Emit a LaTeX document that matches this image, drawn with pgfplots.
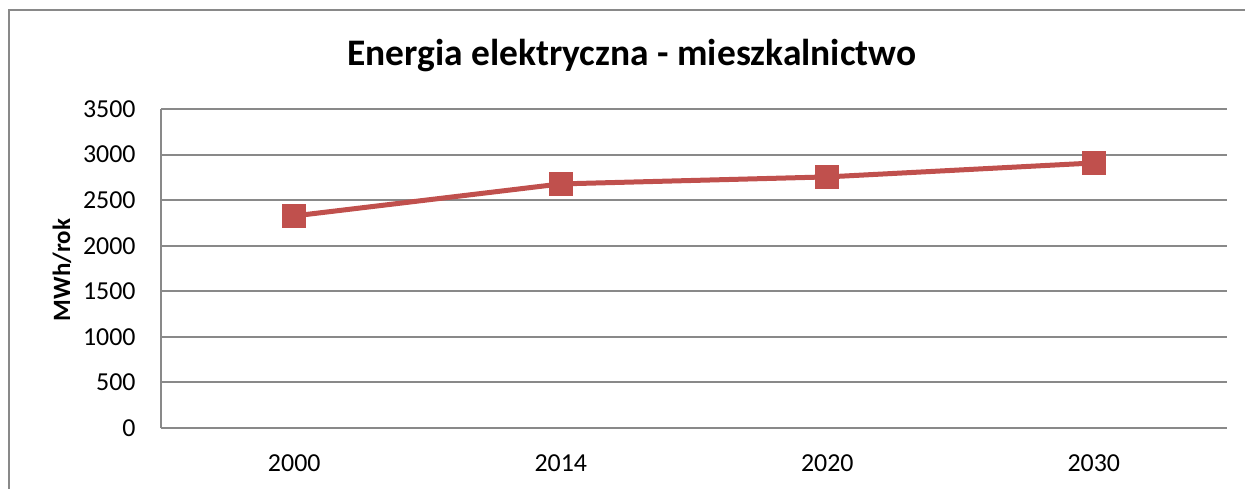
\documentclass[border=0pt]{standalone}
\usepackage{pgfplots}
\pgfplotsset{compat=1.18}
\usepackage{fontspec}
\setmainfont{Carlito}
\definecolor{exred}{RGB}{192,80,77}
\definecolor{exgrid}{RGB}{137,137,137}
\begin{document}
\begin{tikzpicture}[x=1bp,y=1bp]
\useasboundingbox (0,0) rectangle (622.5,244);
\begin{scope}
\clip (0,0) rectangle (622.5,244);
\draw[color=exgrid, line width=1bp] (4.5,-20) -- (4.5,239) -- (640,239);
\end{scope}
\node[anchor=base, font=\fontsize{18.8}{22}\selectfont\bfseries] at (316,211.5) {Energia elektryczna - mieszkalnictwo};
\node[rotate=90, font=\fontsize{12.5}{14}\selectfont\bfseries] at (31,109) {MWh/rok};
\begin{axis}[
  at={(80.5bp,30bp)}, anchor=south west,
  scale only axis, width=533bp, height=159.5bp,
  xmin=-0.5, xmax=3.5, ymin=0, ymax=3500,
  xtick={0,1,2,3}, xticklabels={2000,2014,2020,2030},
  ytick={0,500,...,3500},
  ymajorgrids, grid style={exgrid, line width=1bp},
  axis x line*=bottom, axis y line*=left,
  axis line style={exgrid, line width=1bp, -},
  major tick length=0pt,
  /pgf/number format/assume math mode=true,
  /pgf/number format/1000 sep={},
  tick label style={font=\fontsize{13}{15}\selectfont, inner sep=0pt},
  yticklabel style={anchor=east, xshift=-12.5bp},
  xticklabel style={anchor=north, yshift=-13.3bp},
  clip=false,
]
\addplot[color=exred, line width=2.5bp, mark=square*, mark size=4.8bp, mark options={solid, fill=exred}] coordinates {(0,2327)(1,2678)(2,2755)(3,2908)};
\end{axis}
\end{tikzpicture}
\end{document}
